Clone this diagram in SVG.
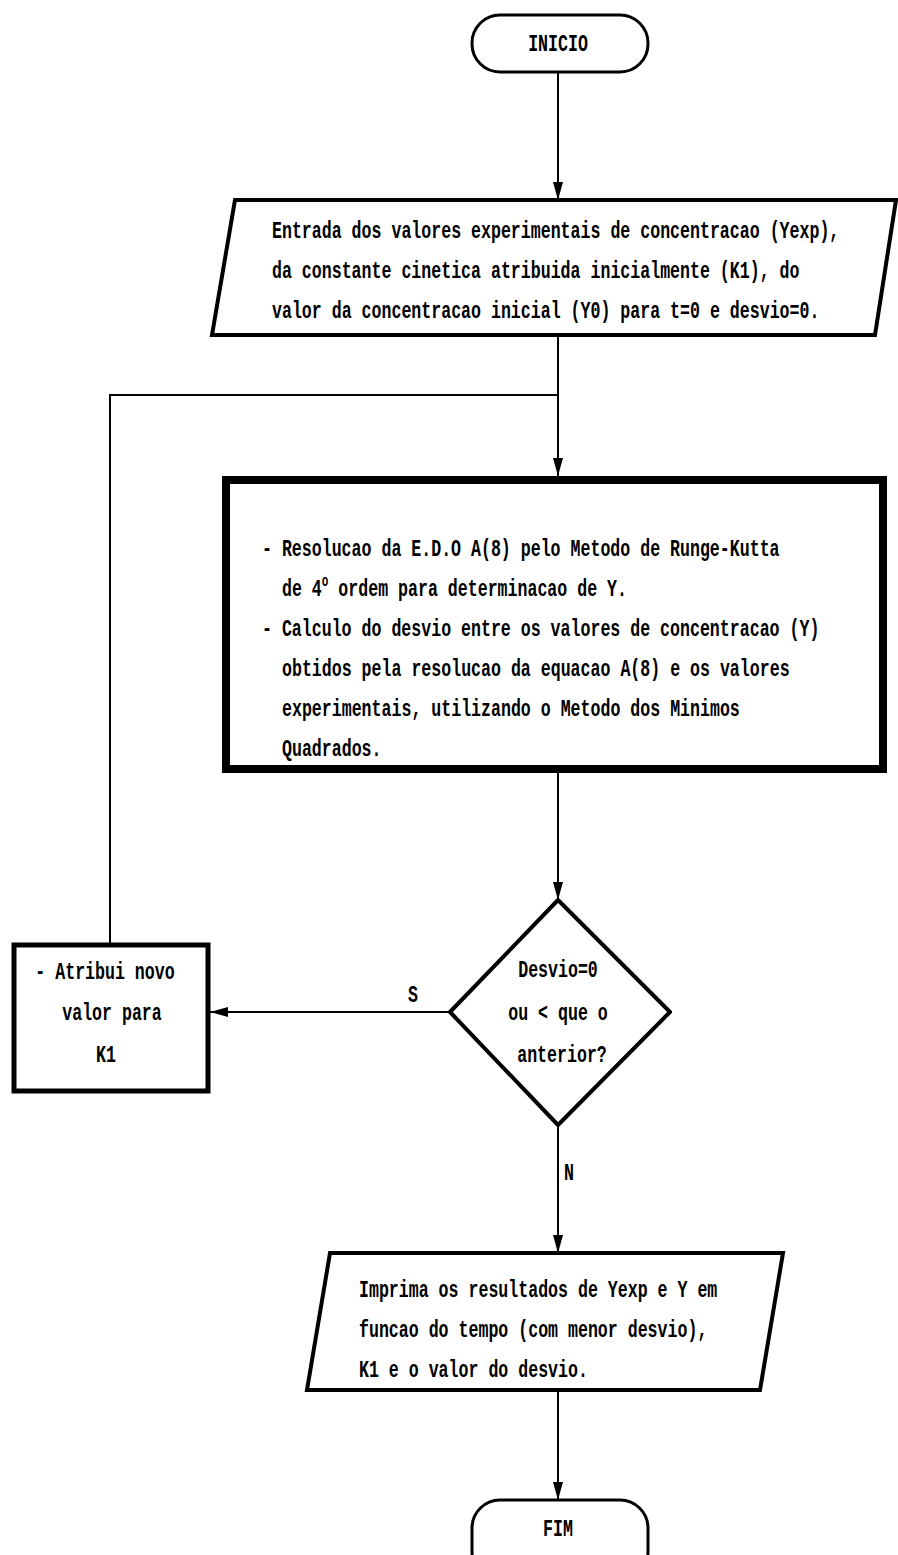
<svg xmlns="http://www.w3.org/2000/svg" width="898" height="1555" viewBox="0 0 898 1555">
  <style>
    .bg { fill: #ffffff; }
    .shape { fill: #ffffff; stroke: #000000; stroke-linejoin: miter; }
    .term { stroke-width: 3; }
    .io { stroke-width: 4; }
    .proc { stroke-width: 8; }
    .dec { stroke-width: 4; stroke-linejoin: round; }
    .wire { fill: none; stroke: #000000; stroke-width: 2; }
    .t { font-family: "Liberation Mono", "DejaVu Sans Mono", monospace; font-weight: bold; font-size: 16.6px; fill: #000000; }
  </style>
  <defs>
    <marker id="arrow" markerUnits="userSpaceOnUse" markerWidth="18" markerHeight="10" refX="18" refY="5" viewBox="0 0 18 10" orient="auto">
      <path d="M0,0 L18,5 L0,10 Z" fill="#000000"/>
    </marker>
  </defs>

  <rect class="bg" x="0" y="0" width="898" height="1555"/>

  <!-- connectors -->
  <g id="connectors">
    <line class="wire" x1="558" y1="72" x2="558" y2="200" marker-end="url(#arrow)"/>
    <line class="wire" x1="558" y1="335" x2="558" y2="476" marker-end="url(#arrow)"/>
    <polyline class="wire" points="110,943 110,395 558,395"/>
    <line class="wire" x1="558" y1="773" x2="558" y2="900" marker-end="url(#arrow)"/>
    <line class="wire" x1="450" y1="1012" x2="210" y2="1012" marker-end="url(#arrow)"/>
    <line class="wire" x1="558" y1="1125" x2="558" y2="1253" marker-end="url(#arrow)"/>
    <line class="wire" x1="558" y1="1390" x2="558" y2="1500" marker-end="url(#arrow)"/>
    <text class="t" transform="translate(408 1002) scale(1 1.45)">S</text>
    <text class="t" transform="translate(564 1180) scale(1 1.45)">N</text>
  </g>

  <!-- start terminal -->
  <g id="inicio">
    <rect class="shape term" x="472" y="15" width="176" height="57" rx="28" ry="28"/>
    <text class="t" transform="translate(558 51) scale(1 1.45)" text-anchor="middle">INICIO</text>
  </g>

  <!-- data input -->
  <g id="entrada">
    <polygon class="shape io" points="235,200 896,200 875,335 212,335"/>
    <text class="t" transform="translate(272 238) scale(1 1.45)">Entrada dos valores experimentais de concentracao (Yexp),</text>
    <text class="t" transform="translate(272 278) scale(1 1.45)">da constante cinetica atribuida inicialmente (K1), do</text>
    <text class="t" transform="translate(272 318) scale(1 1.45)">valor da concentracao inicial (Y0) para t=0 e desvio=0.</text>
  </g>

  <!-- Runge-Kutta solution and deviation -->
  <g id="resolucao">
    <rect class="shape proc" x="226" y="480" width="657" height="289"/>
    <text class="t" transform="translate(262 556) scale(1 1.45)">- Resolucao da E.D.O A(8) pelo Metodo de Runge-Kutta</text>
    <text class="t" transform="translate(282 596) scale(1 1.45)">de 4<tspan font-size="11" dy="-7">o</tspan><tspan dy="7"> ordem para determinacao de Y.</tspan></text>
    <text class="t" transform="translate(262 636) scale(1 1.45)">- Calculo do desvio entre os valores de concentracao (Y)</text>
    <text class="t" transform="translate(282 676) scale(1 1.45)">obtidos pela resolucao da equacao A(8) e os valores</text>
    <text class="t" transform="translate(282 716) scale(1 1.45)">experimentais, utilizando o Metodo dos Minimos</text>
    <text class="t" transform="translate(282 756) scale(1 1.45)">Quadrados.</text>
  </g>

  <!-- decision -->
  <g id="decisao">
    <polygon class="shape dec" points="558,900 670,1012 558,1125 450,1012"/>
    <text class="t" transform="translate(558 977) scale(1 1.45)" text-anchor="middle">Desvio=0</text>
    <text class="t" transform="translate(558 1020) scale(1 1.45)" text-anchor="middle">ou &lt; que o</text>
    <text class="t" transform="translate(562 1062) scale(1 1.45)" text-anchor="middle">anterior?</text>
  </g>

  <!-- new K1 -->
  <g id="atribui">
    <rect class="shape proc" x="14" y="945" width="194" height="146" style="stroke-width:5"/>
    <text class="t" transform="translate(105 979) scale(1 1.45)" text-anchor="middle">- Atribui novo</text>
    <text class="t" transform="translate(112 1020) scale(1 1.45)" text-anchor="middle">valor para</text>
    <text class="t" transform="translate(106 1062) scale(1 1.45)" text-anchor="middle">K1</text>
  </g>

  <!-- output -->
  <g id="imprima">
    <polygon class="shape io" points="330,1253 783,1253 760,1390 307,1390"/>
    <text class="t" transform="translate(359 1297) scale(1 1.45)">Imprima os resultados de Yexp e Y em</text>
    <text class="t" transform="translate(359 1337) scale(1 1.45)">funcao do tempo (com menor desvio),</text>
    <text class="t" transform="translate(359 1377) scale(1 1.45)">K1 e o valor do desvio.</text>
  </g>

  <!-- end terminal -->
  <g id="fim">
    <rect class="shape term" x="472" y="1500" width="176" height="80" rx="28" ry="28"/>
    <text class="t" transform="translate(558 1536) scale(1 1.45)" text-anchor="middle">FIM</text>
  </g>
</svg>
